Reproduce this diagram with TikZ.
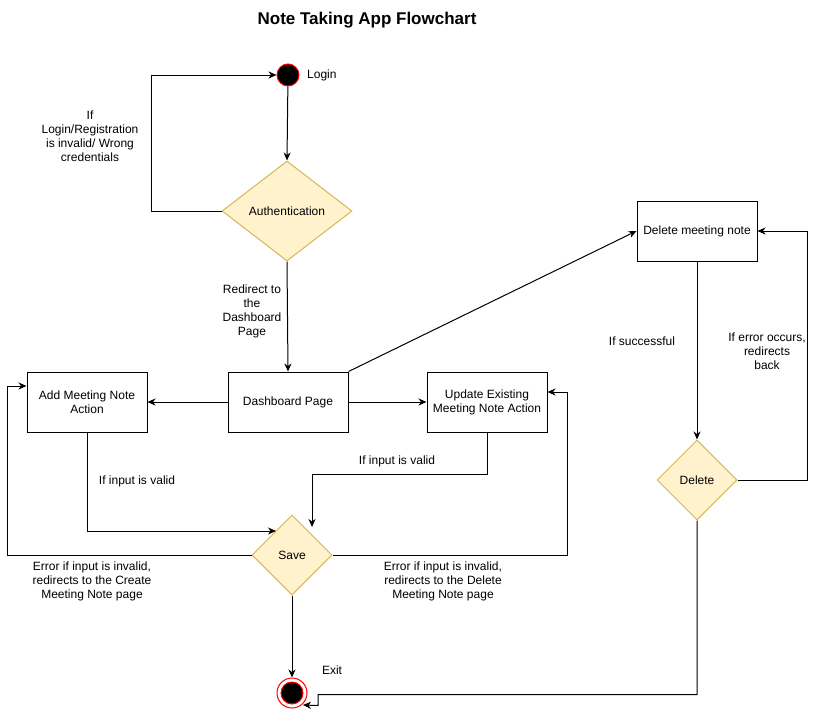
\documentclass[tikz,border=0pt]{standalone}
\usepackage{fontspec}
\setmainfont{Liberation Sans}
\usetikzlibrary{arrows.meta,shapes.geometric,calc}
\definecolor{decfill}{HTML}{FFF2CC}
\definecolor{decborder}{HTML}{D6B656}
\begin{document}
\begin{tikzpicture}[x=1pt,y=-1pt,
  font=\fontsize{12}{14}\selectfont,
  box/.style={draw, line width=1pt, minimum width=120pt, minimum height=60pt, align=center, inner sep=2pt},
  dec/.style={diamond, draw=decborder, fill=decfill, line width=1pt, inner sep=0pt, align=center},
  arr/.style={draw, line width=1pt, -{Stealth[length=8pt,width=7pt,inset=2.5pt]}},
  lbl/.style={align=center, inner sep=0pt}]
\useasboundingbox (0,0) rectangle (816,715);
\node[font=\bfseries\fontsize{17}{20}\selectfont] (title) at (367,20) {Note Taking App Flowchart};
\node[circle, fill=black, draw=red, line width=1pt, minimum size=22pt, inner sep=0pt] (login) at (288,75) {};
\node[lbl, anchor=west] (loginlbl) at (307,75) {Login};
\node[dec, minimum width=130pt, minimum height=100pt] (auth) at (287,211) {Authentication};
\node[box] (dash) at (288,402) {Dashboard Page};
\node[box] (add) at (87,402) {Add Meeting Note\\Action};
\node[box] (upd) at (487,402) {Update Existing\\Meeting Note Action};
\node[box] (delnote) at (697,231) {Delete meeting note};
\node[dec, minimum width=80pt, minimum height=80pt] (del) at (697,480) {Delete};
\node[dec, minimum width=80pt, minimum height=80pt] (save) at (292,555) {Save};
\node[circle, draw=red, line width=1pt, minimum size=30pt, inner sep=0pt] (exit) at (292,693) {};
\node[circle, fill=black, draw=red, line width=1pt, minimum size=22pt, inner sep=0pt] (exitin) at (292,693) {};

\draw[arr] (login) -- (auth.north);
\draw[arr] (auth.west) -- ++(-70,0) |- (login.west);
\draw[arr] (auth.south) -- (dash.north);
\draw[arr] (dash.west) -- (add.east);
\draw[arr] (dash.east) -- (upd.west);
\draw[arr] (dash.north east) -- (delnote.west);
\draw[arr] (delnote.south) -- (del.north);
\draw[arr] (del.east) -- ++(70,0) |- (delnote.east);
\draw[arr] (del.south) -- ++(0,174) -- ++(-379,0) -- ++(0,11) -- (exit.south east |- 0,705);
\draw[arr] (add.south) |- ($(save.center)+(-16,-24)$);
\draw[arr] (upd.south) -- ++(0,42) -| ($(save.center)+(20,-28)$);
\draw[arr] (save.west) -- ++(-244,0) |- ($(add.west)+(0,-16)$);
\draw[arr] (save.east) -- ++(235,0) |- ($(upd.east)+(0,-10)$);
\draw[arr] (save.south) -- (exit.north);

\node[lbl] (l1) at (90,136) {If\\Login/Registration\\is invalid/ Wrong\\credentials};
\node[lbl] (l2) at (252,311) {Redirect to\\the\\Dashboard\\Page};
\node[lbl] (l3) at (137,481) {If input is valid};
\node[lbl] (l4) at (397,461) {If input is valid};
\node[lbl] (l5) at (92,581) {Error if input is invalid,\\redirects to the Create\\Meeting Note page};
\node[lbl] (l6) at (443,581) {Error if input is invalid,\\redirects to the Delete\\Meeting Note page};
\node[lbl] (l7) at (642,341) {If successful};
\node[lbl] (l8) at (767,351) {If error occurs,\\redirects\\back};
\node[lbl] (l9) at (332,670) {Exit};
\end{tikzpicture}
\end{document}
